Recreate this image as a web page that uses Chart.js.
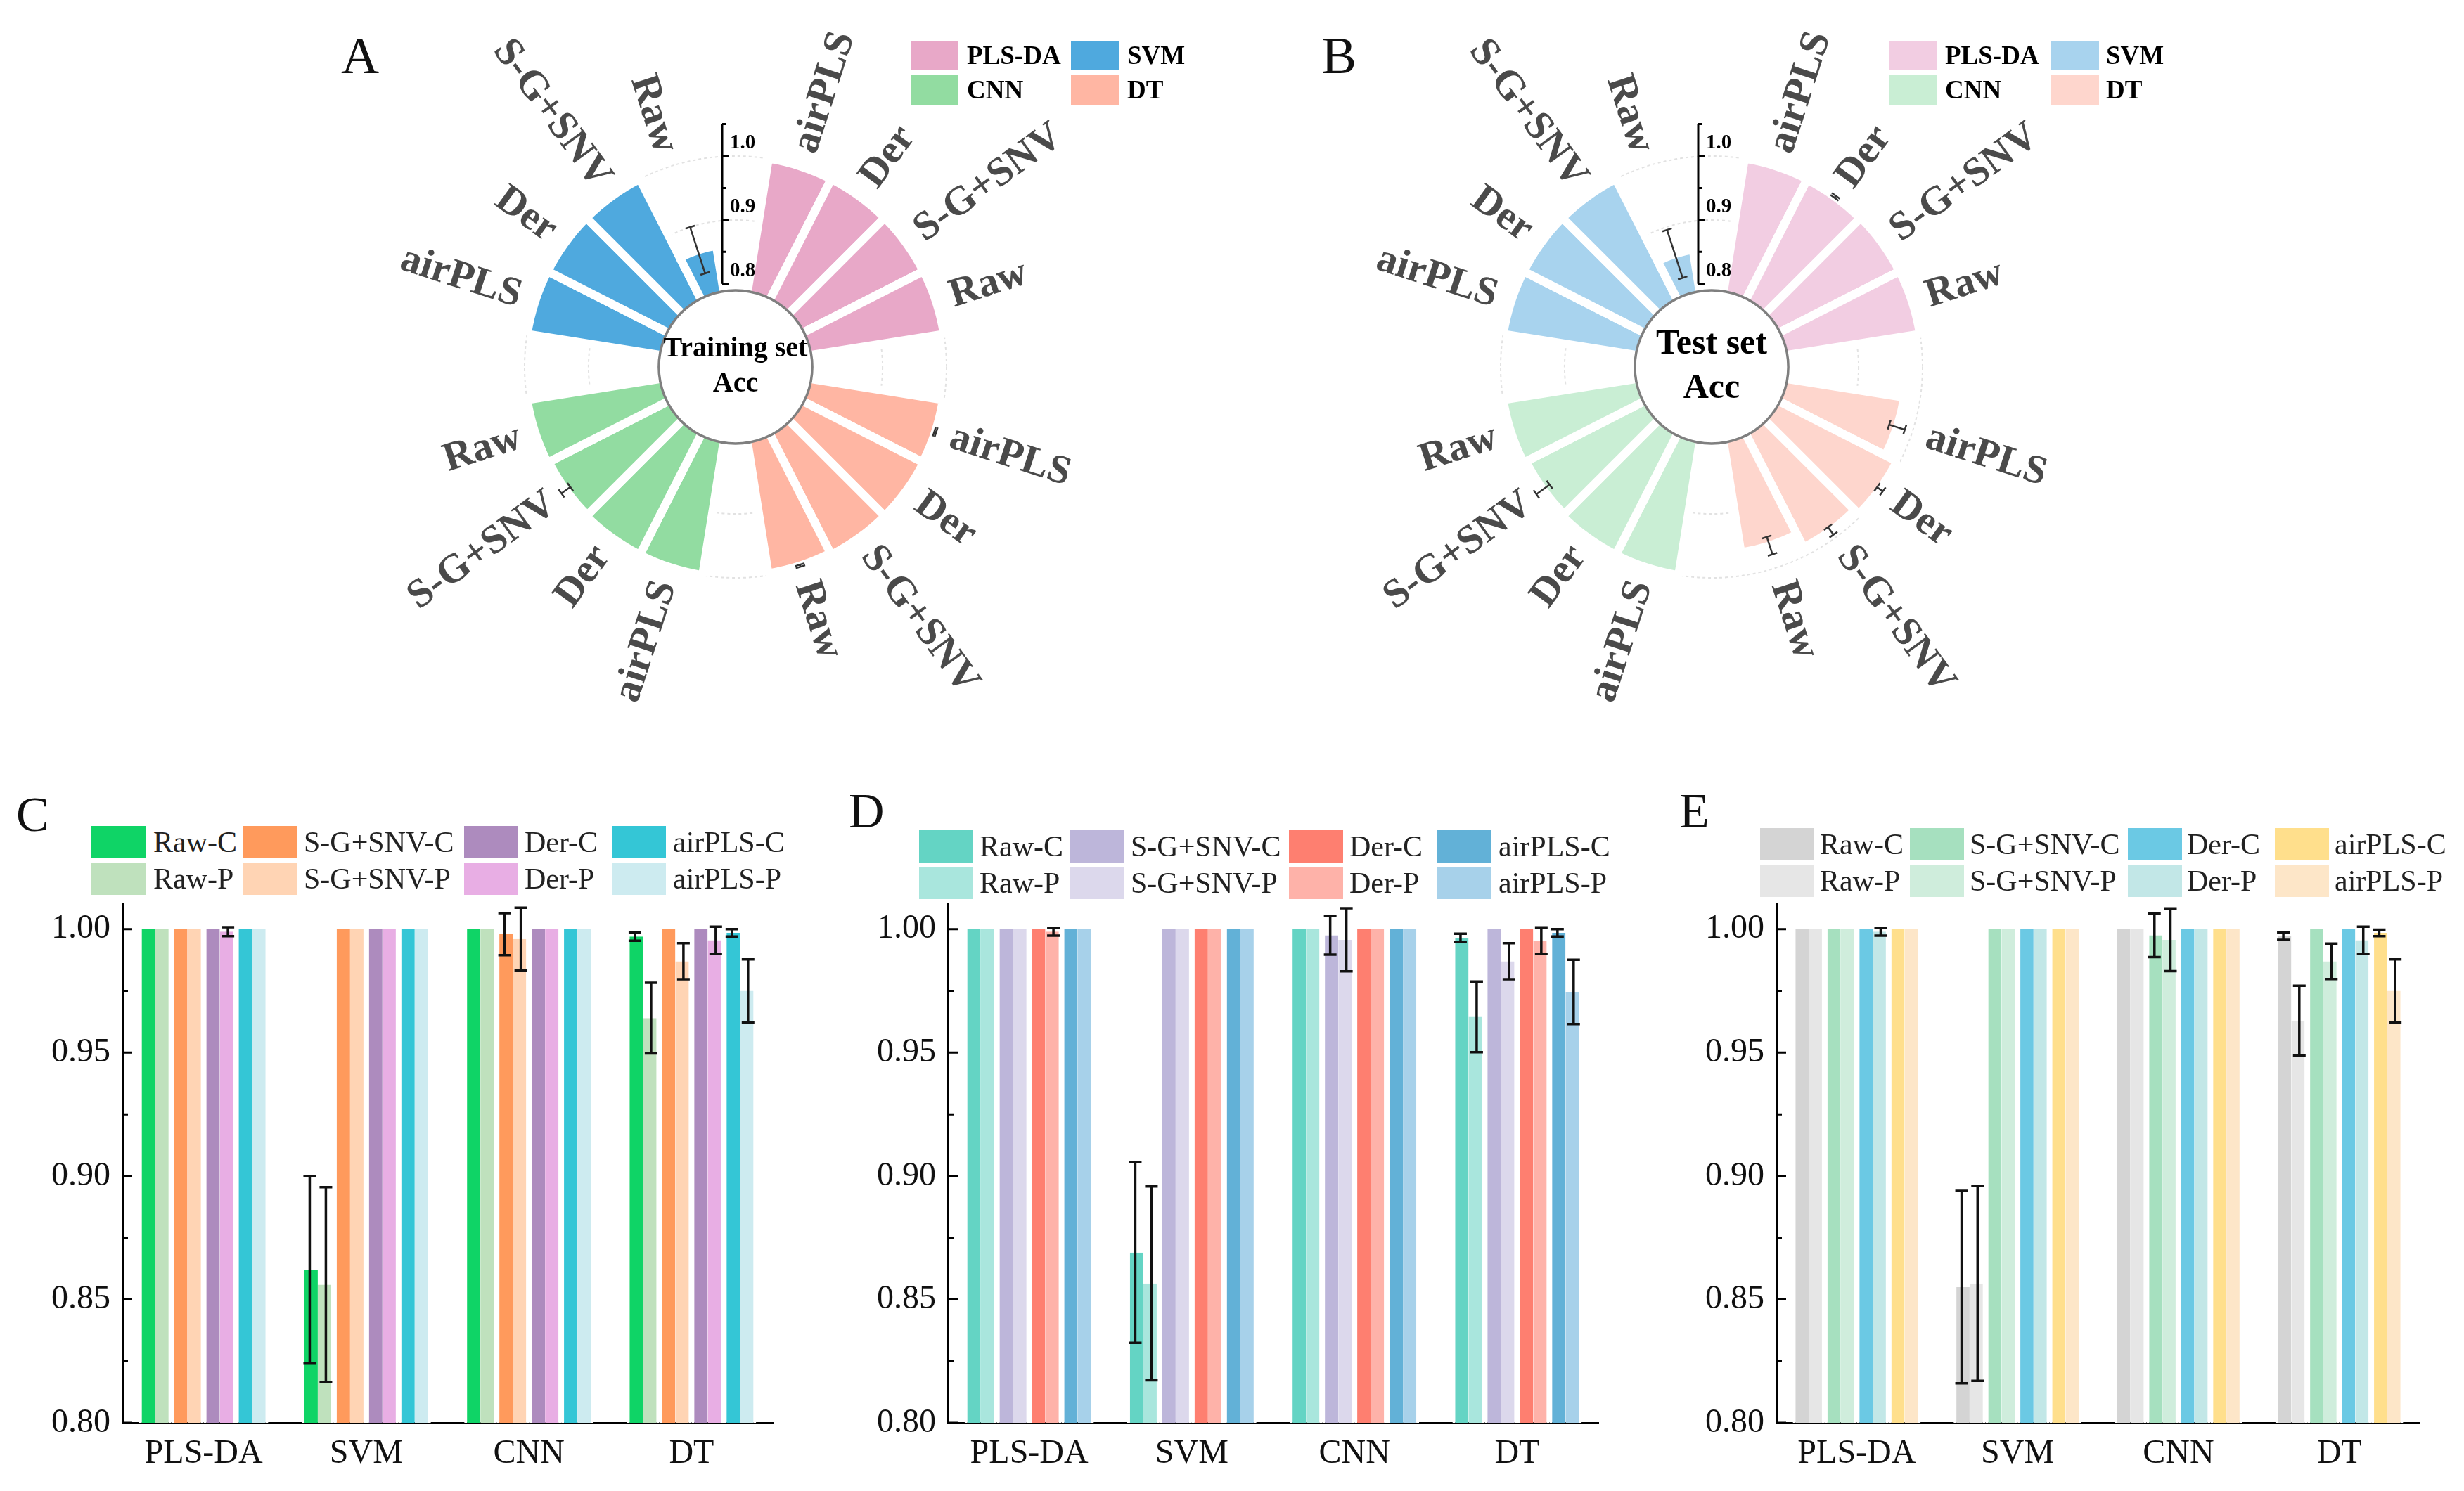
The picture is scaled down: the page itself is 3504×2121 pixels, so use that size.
<!DOCTYPE html>
<html>
<head>
<meta charset="utf-8">
<script src="https://cdn.jsdelivr.net/npm/chart.js@4.4.1/dist/chart.umd.min.js"></script>
<style>
  html, body { margin: 0; padding: 0; background: #fff; }
  body { width: 3504px; height: 2121px; position: relative; overflow: hidden;
         font-family: "Liberation Serif", "Times New Roman", serif; }
  canvas { position: absolute; }
  .txt { position: absolute; white-space: nowrap; color: #111; }
  .sw { position: absolute; }
</style>
</head>
<body>
<canvas id="polarA" width="1360" height="1360" style="left:366px; top:-158px;"></canvas>
<canvas id="polarB" width="1360" height="1360" style="left:1754px; top:-158px;"></canvas>
<canvas id="barC" width="1150" height="881" style="left:0px; top:1240px;"></canvas>
<canvas id="barD" width="1150" height="881" style="left:1174px; top:1240px;"></canvas>
<canvas id="barE" width="1150" height="881" style="left:2352px; top:1240px;"></canvas>

<script>
// ---- data ----
const methods = ['PLS-DA', 'SVM', 'CNN', 'DT'];
const seriesNames = ['Raw-C', 'Raw-P', 'S-G+SNV-C', 'S-G+SNV-P', 'Der-C', 'Der-P', 'airPLS-C', 'airPLS-P'];

// bar panels: one row per series, columns follow `methods`
const valuesC = [
  [1.000, 0.862, 1.000, 0.997],
  [1.000, 0.856, 1.000, 0.964],
  [1.000, 1.000, 0.998, 1.000],
  [1.000, 1.000, 0.996, 0.987],
  [1.000, 1.000, 1.000, 1.000],
  [0.999, 1.000, 1.000, 0.9955],
  [1.000, 1.000, 1.000, 0.9985],
  [1.000, 1.000, 1.000, 0.975]
];
const errorsC = [
  [0, 0.038, 0, 0.0017],
  [0, 0.0395, 0, 0.0143],
  [0, 0, 0.0085, 0],
  [0, 0, 0.0127, 0.0073],
  [0, 0, 0, 0],
  [0.0018, 0, 0, 0.0055],
  [0, 0, 0, 0.0015],
  [0, 0, 0, 0.0128]
];
const valuesD = [
  [1.000, 0.869, 1.000, 0.9965],
  [1.000, 0.8565, 1.000, 0.9645],
  [1.000, 1.000, 0.9975, 1.000],
  [1.000, 1.000, 0.9957, 0.987],
  [1.000, 1.000, 1.000, 1.000],
  [0.999, 1.000, 1.000, 0.9953],
  [1.000, 1.000, 1.000, 0.9985],
  [1.000, 1.000, 1.000, 0.9746]
];
const errorsD = [
  [0, 0.0366, 0, 0.0017],
  [0, 0.0393, 0, 0.0143],
  [0, 0, 0.0078, 0],
  [0, 0, 0.0128, 0.0073],
  [0, 0, 0, 0],
  [0.0016, 0, 0, 0.0054],
  [0, 0, 0, 0.0015],
  [0, 0, 0, 0.013]
];
const valuesE = [
  [1.000, 0.855, 1.000, 0.9972],
  [1.000, 0.8565, 1.000, 0.963],
  [1.000, 1.000, 0.9975, 1.000],
  [1.000, 1.000, 0.9957, 0.987],
  [1.000, 1.000, 1.000, 1.000],
  [0.999, 1.000, 1.000, 0.9955],
  [1.000, 1.000, 1.000, 0.9985],
  [1.000, 1.000, 1.000, 0.975]
];
const errorsE = [
  [0, 0.039, 0, 0.0015],
  [0, 0.0395, 0, 0.0141],
  [0, 0, 0.0088, 0],
  [0, 0, 0.0127, 0.0072],
  [0, 0, 0, 0],
  [0.0016, 0, 0, 0.0055],
  [0, 0, 0, 0.0013],
  [0, 0, 0, 0.0128]
];

// polar panels: groups clockwise from 12 o'clock, bars clockwise inside each group
const polarGroups = ['PLS-DA', 'DT', 'CNN', 'SVM'];
const polarBars = ['airPLS', 'Der', 'S-G+SNV', 'Raw'];
const trainAcc = [[1, 1, 1, 1], [0.9985, 1, 1, 0.997], [1, 1, 0.998, 1], [1, 1, 1, 0.862]];
const trainErr = [[0, 0, 0, 0], [0.0015, 0, 0, 0.0017], [0, 0, 0.0085, 0], [0, 0, 0, 0.038]];
const testAcc = [[1, 0.999, 1, 1], [0.975, 0.9955, 0.987, 0.964], [1, 1, 0.996, 1], [1, 1, 1, 0.856]];
const testErr = [[0, 0.0018, 0, 0], [0.0128, 0.0055, 0.0073, 0.0143], [0, 0, 0.0127, 0], [0, 0, 0, 0.0395]];
const polarTicks = [0.8, 0.9, 1.0];

// ---- colours ----
const colorsA = { 'PLS-DA': '#e8a8c8', 'SVM': '#4fa9de', 'CNN': '#92dca1', 'DT': '#ffb6a3' };
const colorsB = { 'PLS-DA': '#f2cde2', 'SVM': '#a8d3ee', 'CNN': '#c9eed4', 'DT': '#fed6cd' };
const colorsC = ['#0fd466', '#bfe1bd', '#ff9a5c', '#ffd4b4', '#ad8bbe', '#e8aee4', '#34c6d6', '#cdebf0'];
const colorsD = ['#64d4c4', '#a9e6dd', '#bdb6da', '#dcd8ec', '#fe7f70', '#feb2a9', '#62b1d7', '#a7d1ea'];
const colorsE = ['#d4d4d4', '#e6e6e6', '#a6e0bf', '#cfeddc', '#6bc9e4', '#c2e7e7', '#ffdf8c', '#fde6c8'];

const SERIF = '"Liberation Serif", "Times New Roman", serif';
Chart.defaults.font.family = SERIF;
Chart.defaults.color = '#111';

const R_MIN = 0.67;  // value at the centre of the radial scale

// ---- polar (rose) charts ----
function makePolar(id, acc, err, colors, centerLines, centerFont, lineGap) {
  const values = [], bg = [], labels = [], errs = [];
  polarGroups.forEach((g, gi) => {
    // empty slot between groups
    values.push(R_MIN); bg.push('rgba(0,0,0,0)'); labels.push(''); errs.push(0);
    polarBars.forEach((p, pi) => {
      values.push(acc[gi][pi]);
      bg.push(colors[g]);
      labels.push(p);
      errs.push(err[gi][pi]);
    });
  });

  const decor = {
    id: 'polarDecor',
    afterDatasetsDraw(chart) {
      const ctx = chart.ctx;
      const scale = chart.scales.r;
      const cx = scale.xCenter, cy = scale.yCenter;
      const meta = chart.getDatasetMeta(0);
      const dist = v => scale.getDistanceFromCenterForValue(v);

      // error bars along the middle of each bar
      ctx.save();
      ctx.strokeStyle = '#333';
      ctx.lineWidth = 2.5;
      meta.data.forEach((arc, i) => {
        if (!errs[i]) return;
        const mid = (arc.startAngle + arc.endAngle) / 2;
        const ux = Math.cos(mid), uy = Math.sin(mid);
        const r1 = dist(values[i] - errs[i]), r2 = dist(values[i] + errs[i]);
        ctx.beginPath();
        ctx.moveTo(cx + ux * r1, cy + uy * r1);
        ctx.lineTo(cx + ux * r2, cy + uy * r2);
        [r1, r2].forEach(r => {
          ctx.moveTo(cx + ux * r - uy * 7, cy + uy * r + ux * 7);
          ctx.lineTo(cx + ux * r + uy * 7, cy + uy * r - ux * 7);
        });
        ctx.stroke();
      });
      ctx.restore();

      // white hub
      ctx.save();
      ctx.beginPath();
      ctx.arc(cx, cy, dist(0.79), 0, Math.PI * 2);
      ctx.fillStyle = '#fff';
      ctx.fill();
      ctx.lineWidth = 3.5;
      ctx.strokeStyle = '#7f7f7f';
      ctx.stroke();
      ctx.fillStyle = '#000';
      ctx.font = 'bold ' + centerFont + 'px ' + SERIF;
      ctx.textAlign = 'center';
      ctx.textBaseline = 'middle';
      ctx.fillText(centerLines[0], cx, cy - lineGap / 2);
      ctx.fillText(centerLines[1], cx, cy + lineGap / 2);
      ctx.restore();

      // radial axis in the top gap
      const ax = cx - 19;
      ctx.save();
      ctx.strokeStyle = '#000';
      ctx.lineWidth = 3;
      ctx.beginPath();
      ctx.moveTo(ax, cy - dist(0.8));
      ctx.lineTo(ax, cy - dist(1.05));
      for (let k = 0; k <= 5; k++) {
        const v = 0.8 + k * 0.05;
        const y = cy - dist(v);
        ctx.moveTo(ax, y);
        ctx.lineTo(ax + (k % 2 === 0 ? 9 : 6), y);
      }
      ctx.stroke();
      ctx.fillStyle = '#000';
      ctx.font = 'bold 29px ' + SERIF;
      ctx.textAlign = 'left';
      ctx.textBaseline = 'middle';
      polarTicks.forEach(v => {
        ctx.fillText(v.toFixed(1), ax + 11, cy - dist(v) - 18);
      });
      ctx.restore();

      // bar names written along the radius
      ctx.save();
      ctx.fillStyle = '#4a4a4a';
      ctx.font = 'bold 58px ' + SERIF;
      ctx.textBaseline = 'middle';
      const R = scale.drawingArea + 22;
      meta.data.forEach((arc, i) => {
        if (!labels[i]) return;
        const mid = (arc.startAngle + arc.endAngle) / 2;
        const fromTop = ((mid + Math.PI / 2) % (Math.PI * 2) + Math.PI * 2) % (Math.PI * 2);
        ctx.save();
        ctx.translate(cx + Math.cos(mid) * R, cy + Math.sin(mid) * R);
        if (fromTop < Math.PI) {
          ctx.rotate(mid);
          ctx.textAlign = 'left';
        } else {
          ctx.rotate(mid + Math.PI);
          ctx.textAlign = 'right';
        }
        ctx.fillText(labels[i], 0, 0);
        ctx.restore();
      });
      ctx.restore();
    }
  };

  return new Chart(document.getElementById(id), {
    type: 'polarArea',
    data: {
      labels: labels,
      datasets: [{
        data: values,
        backgroundColor: bg,
        borderColor: '#ffffff',
        borderWidth: 12,
        angle: 18
      }]
    },
    options: {
      responsive: false,
      animation: false,
      layout: { padding: 380 },
      plugins: { legend: { display: false }, tooltip: { enabled: false } },
      scales: {
        r: {
          min: R_MIN,
          max: 1.0,
          beginAtZero: false,
          startAngle: -9,
          ticks: { display: false, stepSize: 0.1 },
          grid: {
            circular: true,
            lineWidth: 2,
            color: c => (c.tick && c.tick.value > 0.85) ? '#e2e2e2' : 'rgba(0,0,0,0)'
          },
          border: { dash: [4, 4] },
          angleLines: { display: false },
          pointLabels: { display: false }
        }
      }
    },
    plugins: [decor]
  });
}

// ---- grouped bar charts ----
function makeBars(id, values, errors, colors, padRight) {
  const datasets = seriesNames.map((name, i) => ({
    label: name,
    data: values[i],
    backgroundColor: colors[i],
    borderColor: '#ffffff',
    // white edge on the outer side of each C/P pair gives the gap between pairs
    borderWidth: i % 2 === 0 ? { left: 4, right: 0, top: 0, bottom: 0 } : { left: 0, right: 4, top: 0, bottom: 0 },
    borderSkipped: false,
    categoryPercentage: 0.795,
    barPercentage: 1.0
  }));

  const errorBars = {
    id: 'errorBars',
    afterDatasetsDraw(chart) {
      const ctx = chart.ctx;
      const y = chart.scales.y;
      const area = chart.chartArea;

      // inward ticks on the y axis
      ctx.save();
      ctx.strokeStyle = '#000';
      ctx.lineWidth = 3;
      ctx.beginPath();
      for (let k = 0; k <= 8; k++) {
        const py = y.getPixelForValue(0.8 + k * 0.025);
        ctx.moveTo(area.left, py);
        ctx.lineTo(area.left + (k % 2 === 0 ? 14 : 8), py);
      }
      ctx.stroke();
      ctx.restore();

      ctx.save();
      ctx.strokeStyle = '#111';
      ctx.lineWidth = 3.5;
      chart.data.datasets.forEach((ds, di) => {
        const meta = chart.getDatasetMeta(di);
        meta.data.forEach((bar, j) => {
          const e = errors[di][j];
          if (!e) return;
          const v = values[di][j];
          const y1 = y.getPixelForValue(v + e);
          const y2 = y.getPixelForValue(v - e);
          ctx.beginPath();
          ctx.moveTo(bar.x, y1); ctx.lineTo(bar.x, y2);
          ctx.moveTo(bar.x - 9, y1); ctx.lineTo(bar.x + 9, y1);
          ctx.moveTo(bar.x - 9, y2); ctx.lineTo(bar.x + 9, y2);
          ctx.stroke();
        });
      });
      ctx.restore();
    }
  };

  return new Chart(document.getElementById(id), {
    type: 'bar',
    data: { labels: methods, datasets: datasets },
    options: {
      responsive: false,
      animation: false,
      layout: { padding: { top: 46, right: padRight, left: 0, bottom: 0 } },
      plugins: { legend: { display: false }, tooltip: { enabled: false } },
      scales: {
        x: {
          grid: { display: false, drawTicks: false },
          border: { display: true, color: '#000', width: 3 },
          ticks: { font: { size: 48 }, color: '#111', padding: 16 },
          afterFit: s => { s.height = 97; }
        },
        y: {
          min: 0.8,
          max: 1.0102,
          grid: { display: false, drawTicks: false },
          border: { display: true, color: '#000', width: 3 },
          ticks: {
            stepSize: 0.05,
            includeBounds: false,
            font: { size: 48 },
            color: '#111',
            padding: 17,
            callback: v => Number(v).toFixed(2)
          },
          afterFit: s => { s.width = 174; }
        }
      }
    },
    plugins: [errorBars]
  });
}

makePolar('polarA', trainAcc, trainErr, colorsA, ['Training set', 'Acc'], 40, 50);
makePolar('polarB', testAcc, testErr, colorsB, ['Test set', 'Acc'], 50, 63);
makeBars('barC', valuesC, errorsC, colorsC, 51);
makeBars('barD', valuesD, errorsD, colorsD, 51);
makeBars('barE', valuesE, errorsE, colorsE, 61);

// ---- HTML legends and panel letters ----
function addText(str, left, top, size, bold) {
  const d = document.createElement('div');
  d.className = 'txt';
  d.textContent = str;
  d.style.left = left + 'px';
  d.style.top = top + 'px';
  d.style.fontSize = size + 'px';
  d.style.lineHeight = size + 'px';
  if (bold) d.style.fontWeight = 'bold';
  document.body.appendChild(d);
  return d;
}
function addSwatch(color, left, top, w, h) {
  const d = document.createElement('div');
  d.className = 'sw';
  d.style.cssText = `left:${left}px;top:${top}px;width:${w}px;height:${h}px;background:${color};`;
  document.body.appendChild(d);
}

// letters: baseline ~0.84em below the box top
addText('A', 485, 104 - 63, 75, false);
addText('B', 1879, 104 - 63, 75, false);
addText('C', 23, 1183 - 59, 70, false);
addText('D', 1207, 1178 - 59, 70, false);
addText('E', 2388, 1178 - 59, 70, false);

function polarLegend(colors, swX, txX) {
  const order = [['PLS-DA', 'SVM'], ['CNN', 'DT']];
  const rows = [58, 107];
  order.forEach((row, r) => {
    row.forEach((name, c) => {
      addSwatch(colors[name], swX[c], rows[r], 68, 42);
      const t = addText(name, txX[c], rows[r], 37, true);
      t.style.lineHeight = '42px';
      t.style.color = '#000';
    });
  });
}
polarLegend(colorsA, [1295, 1523], [1375, 1603]);
polarLegend(colorsB, [2687, 2917], [2766, 2995]);

function barLegend(colors, swX, txX, rows) {
  seriesNames.forEach((name, i) => {
    const col = Math.floor(i / 2), row = i % 2;
    addSwatch(colors[i], swX[col], rows[row], 77, 46);
    const t = addText(name, txX[col], rows[row], 42, false);
    t.style.lineHeight = '46px';
    t.style.color = '#222';
  });
}
barLegend(colorsC, [130, 346, 660, 870], [218, 432, 746, 957], [1175, 1227]);
barLegend(colorsD, [1307, 1521, 1833, 2044], [1393, 1608, 1919, 2131], [1181, 1233]);
barLegend(colorsE, [2503, 2716, 3026, 3235], [2588, 2801, 3110, 3320], [1178, 1230]);
</script>
</body>
</html>
